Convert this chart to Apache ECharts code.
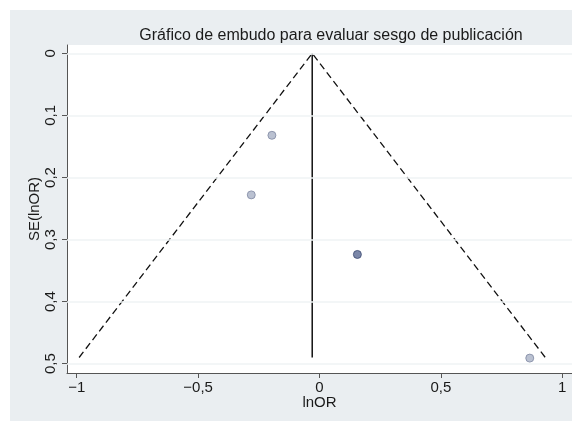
<!DOCTYPE html>
<html>
<head>
<meta charset="utf-8">
<script src="https://cdn.jsdelivr.net/npm/echarts@6/dist/echarts.min.js"></script>
<style>
html,body{margin:0;padding:0;background:#ffffff;}
#c{width:572px;height:421px;}
</style>
</head>
<body>
<div id="c"></div>
<script>
// Data
var chartTitle = 'Gráfico de embudo para evaluar sesgo de publicación';
var xTicks = [-1, -0.5, 0, 0.5, 1];
var yTicks = [0, 0.1, 0.2, 0.3, 0.4, 0.5];
var lightPoints = [[-0.196, 0.132], [-0.281, 0.228], [0.866, 0.491]];
var darkPoints = [[0.156, 0.324]];
var funnelX = [-0.99, -0.03, 0.93];
var funnelY = [0.49, 0, 0.49];
var pooledX = [-0.03, -0.03];
var pooledY = [0, 0.49];

var FONT = 'Liberation Sans, Arial, sans-serif';
function fmt(v){
  return String(v).replace('.', ',').replace('-', '\u2212');
}
function zip(a, b){ return a.map(function(v, i){ return [v, b[i]]; }); }

var chart = echarts.init(document.getElementById('c'), null, {renderer: 'canvas'});
chart.setOption({
  animation: false,
  backgroundColor: '#ffffff',
  graphic: [{
    type: 'rect', z: -10, silent: true,
    shape: {x: 10, y: 10, width: 562, height: 411},
    style: {fill: '#eaeef1'}
  }],
  title: {
    text: chartTitle,
    left: 326, top: 23, textAlign: 'center',
    textStyle: {fontFamily: FONT, fontSize: 16, fontWeight: 'normal', color: '#1a1a1a'}
  },
  grid: {
    left: 67, top: 45, right: 0, bottom: 48,
    show: true, backgroundColor: '#ffffff', borderWidth: 0
  },
  xAxis: {
    type: 'value', min: -1.04, max: 1.04,
    name: 'lnOR', nameLocation: 'middle', nameGap: 22, nameMoveOverlap: false,
    nameTextStyle: {fontFamily: FONT, fontSize: 15, color: '#1a1a1a'},
    axisLine: {show: true, onZero: false, lineStyle: {color: '#555', width: 1}},
    axisTick: {show: true, length: 5, customValues: xTicks, lineStyle: {color: '#555'}},
    axisLabel: {customValues: xTicks, formatter: fmt, margin: 7,
      fontFamily: FONT, fontSize: 15, color: '#1a1a1a'},
    splitLine: {show: false}
  },
  yAxis: {
    type: 'value', inverse: true, min: -0.0135, max: 0.515,
    name: 'SE(lnOR)', nameLocation: 'middle', nameGap: 25, nameRotate: 90, nameMoveOverlap: false,
    nameTextStyle: {fontFamily: FONT, fontSize: 15, color: '#1a1a1a'},
    axisLine: {show: true, onZero: false, lineStyle: {color: '#555', width: 1}},
    axisTick: {show: true, length: 5, customValues: yTicks, lineStyle: {color: '#555'}},
    axisLabel: {customValues: yTicks, formatter: fmt, rotate: 90, margin: 9,
      fontFamily: FONT, fontSize: 15, color: '#1a1a1a'},
    splitLine: {show: false}
  },
  series: [
    {
      type: 'line', silent: true, symbol: 'none', data: [],
      markLine: {
        silent: true, symbol: 'none', label: {show: false},
        lineStyle: {color: '#eff3f5', width: 1.5, type: 'solid'},
        data: yTicks.map(function(v){ return {yAxis: v}; })
      }
    },
    {
      type: 'line', symbol: 'none', silent: true,
      data: zip(funnelX, funnelY),
      lineStyle: {color: '#111', width: 1.3, type: [7, 4]}
    },
    {
      type: 'line', symbol: 'none', silent: true,
      data: zip(pooledX, pooledY),
      lineStyle: {color: '#111', width: 1.5}
    },
    {
      type: 'scatter', symbolSize: 8, data: lightPoints,
      itemStyle: {color: '#a9b1c6', borderColor: '#7f88a3', borderWidth: 1}
    },
    {
      type: 'scatter', symbolSize: 8, data: darkPoints,
      itemStyle: {color: '#5a6992', borderColor: '#3c4a70', borderWidth: 1}
    }
  ]
});
</script>
</body>
</html>
